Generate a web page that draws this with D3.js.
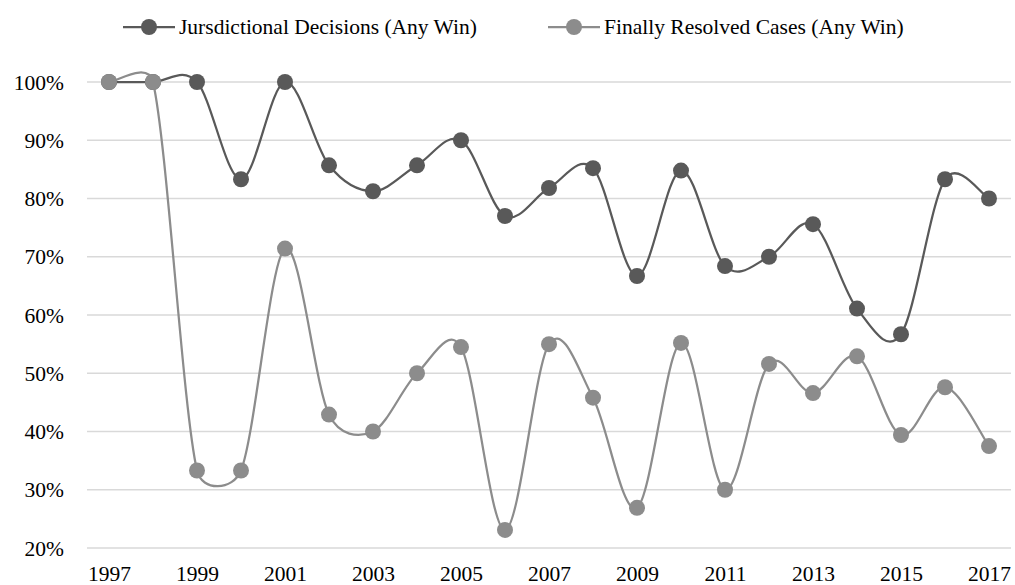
<!DOCTYPE html>
<html><head><meta charset="utf-8">
<script src="https://cdn.jsdelivr.net/npm/d3@7"></script>
<style>body{margin:0;background:#fff;font-family:'Liberation Serif',serif}svg{display:block}svg,svg *{font-family:'Liberation Serif',serif}</style>
</head><body><svg id="c" width="1015" height="585" font-family="Liberation Serif"></svg>
<script>
const years = [1997,1998,1999,2000,2001,2002,2003,2004,2005,2006,2007,2008,2009,2010,2011,2012,2013,2014,2015,2016,2017];
const jurisdictional = [100,100,100,83.3,100,85.7,81.25,85.7,90,77,81.8,85.2,66.7,84.8,68.4,70,75.6,61.1,56.7,83.3,80];
const finallyResolved = [100,100,33.3,33.3,71.4,42.9,40,50,54.5,23.1,55,45.8,26.9,55.2,30,51.6,46.6,52.9,39.4,47.6,37.5];
const yTicks = [20,30,40,50,60,70,80,90,100];
const xTickYears = [1997,1999,2001,2003,2005,2007,2009,2011,2013,2015,2017];
const seriesNames = ["Jursdictional Decisions (Any Win)","Finally Resolved Cases (Any Win)"];
const colors = ["#595959","#8c8c8c"];

// Spreadsheet-style smoothing curve (Bezier, control points capped at half segment length)
function SmoothCurve(context){ this._context = context; }
SmoothCurve.prototype = {
  areaStart(){ this._line = 0; }, areaEnd(){ this._line = NaN; },
  lineStart(){ this._pts = []; },
  point(x, y){ this._pts.push([+x, +y]); },
  lineEnd(){
    const p = this._pts, c = this._context, n = p.length;
    if (!n) return;
    c.moveTo(p[0][0], p[0][1]);
    const dist = (a, b) => Math.hypot(a[0]-b[0], a[1]-b[1]);
    for (let i = 0; i < n - 1; i++) {
      const p0 = p[Math.max(0, i-1)], p1 = p[i], p2 = p[i+1], p3 = p[Math.min(n-1, i+2)];
      const d12 = dist(p1, p2), d02 = dist(p0, p2), d13 = dist(p1, p3);
      const f1 = d02 ? Math.min(1/6, d12 / (2*d02)) : 0;
      const f2 = d13 ? Math.min(1/6, d12 / (2*d13)) : 0;
      c.bezierCurveTo(p1[0] + (p2[0]-p0[0])*f1, p1[1] + (p2[1]-p0[1])*f1,
                      p2[0] - (p3[0]-p1[0])*f2, p2[1] - (p3[1]-p1[1])*f2,
                      p2[0], p2[1]);
    }
  }
};
const smoothCurve = ctx => new SmoothCurve(ctx);

(function(){
const FONT = "'Liberation Serif'";
const svg = d3.select("#c");
const pLeft = 87, pRight = 1011, pTop = 82, pBottom = 548;
const fs = "21.5px";
const x = d3.scalePoint().domain(years).range([pLeft, pRight]).padding(0.5);
const y = d3.scaleLinear().domain([20,100]).range([pBottom, pTop]);

const grid = svg.append("g");
yTicks.forEach(t => {
  grid.append("line").attr("x1", pLeft).attr("x2", pRight).attr("y1", y(t)).attr("y2", y(t))
    .attr("stroke", "#d9d9d9").attr("stroke-width", 1.5);
});

const yAxis = d3.axisLeft(y).tickValues(yTicks).tickFormat(d => d + "%").tickSize(0).tickPadding(0);
const ya = svg.append("g").attr("transform", `translate(64,0)`).call(yAxis)
  .attr("font-family", "Liberation Serif").attr("font-size", null);
ya.select(".domain").remove();
ya.selectAll("text").attr("font-family", "Liberation Serif").style("font-family", FONT).style("font-size", fs).attr("fill", "#000").attr("dy", "0.33em");

const xAxis = d3.axisBottom(x).tickValues(xTickYears).tickSize(0).tickPadding(0);
const xa = svg.append("g").attr("transform", `translate(0,581)`).call(xAxis)
  .attr("font-family", "Liberation Serif").attr("font-size", null);
xa.select(".domain").remove();
xa.selectAll("text").attr("font-family", "Liberation Serif").style("font-family", FONT).style("font-size", fs).attr("fill", "#000").attr("dy", "0");

const line = d3.line().x((d,i) => x(years[i])).y(d => y(d)).curve(smoothCurve);
[jurisdictional, finallyResolved].forEach((data, k) => {
  const g = svg.append("g");
  g.append("path").attr("d", line(data)).attr("fill", "none").attr("stroke", colors[k]).attr("stroke-width", 2.25);
  g.selectAll("circle").data(data).join("circle")
    .attr("cx", (d,i) => x(years[i])).attr("cy", d => y(d)).attr("r", 8).attr("fill", colors[k]);
});

const legX = [123, 548];
seriesNames.forEach((name, k) => {
  const g = svg.append("g").attr("transform", `translate(${legX[k]},27)`);
  g.append("line").attr("x1", 0).attr("x2", 52).attr("y1", 0).attr("y2", 0).attr("stroke", colors[k]).attr("stroke-width", 2.25);
  g.append("circle").attr("cx", 26).attr("cy", 0).attr("r", 8).attr("fill", colors[k]);
  g.append("text").attr("x", 56).attr("y", 0).attr("dy", "0.33em").attr("fill", "#000")
    .attr("font-family", "Liberation Serif").style("font-family", FONT).style("font-size", fs).text(name);
});
})();
</script></body></html>
